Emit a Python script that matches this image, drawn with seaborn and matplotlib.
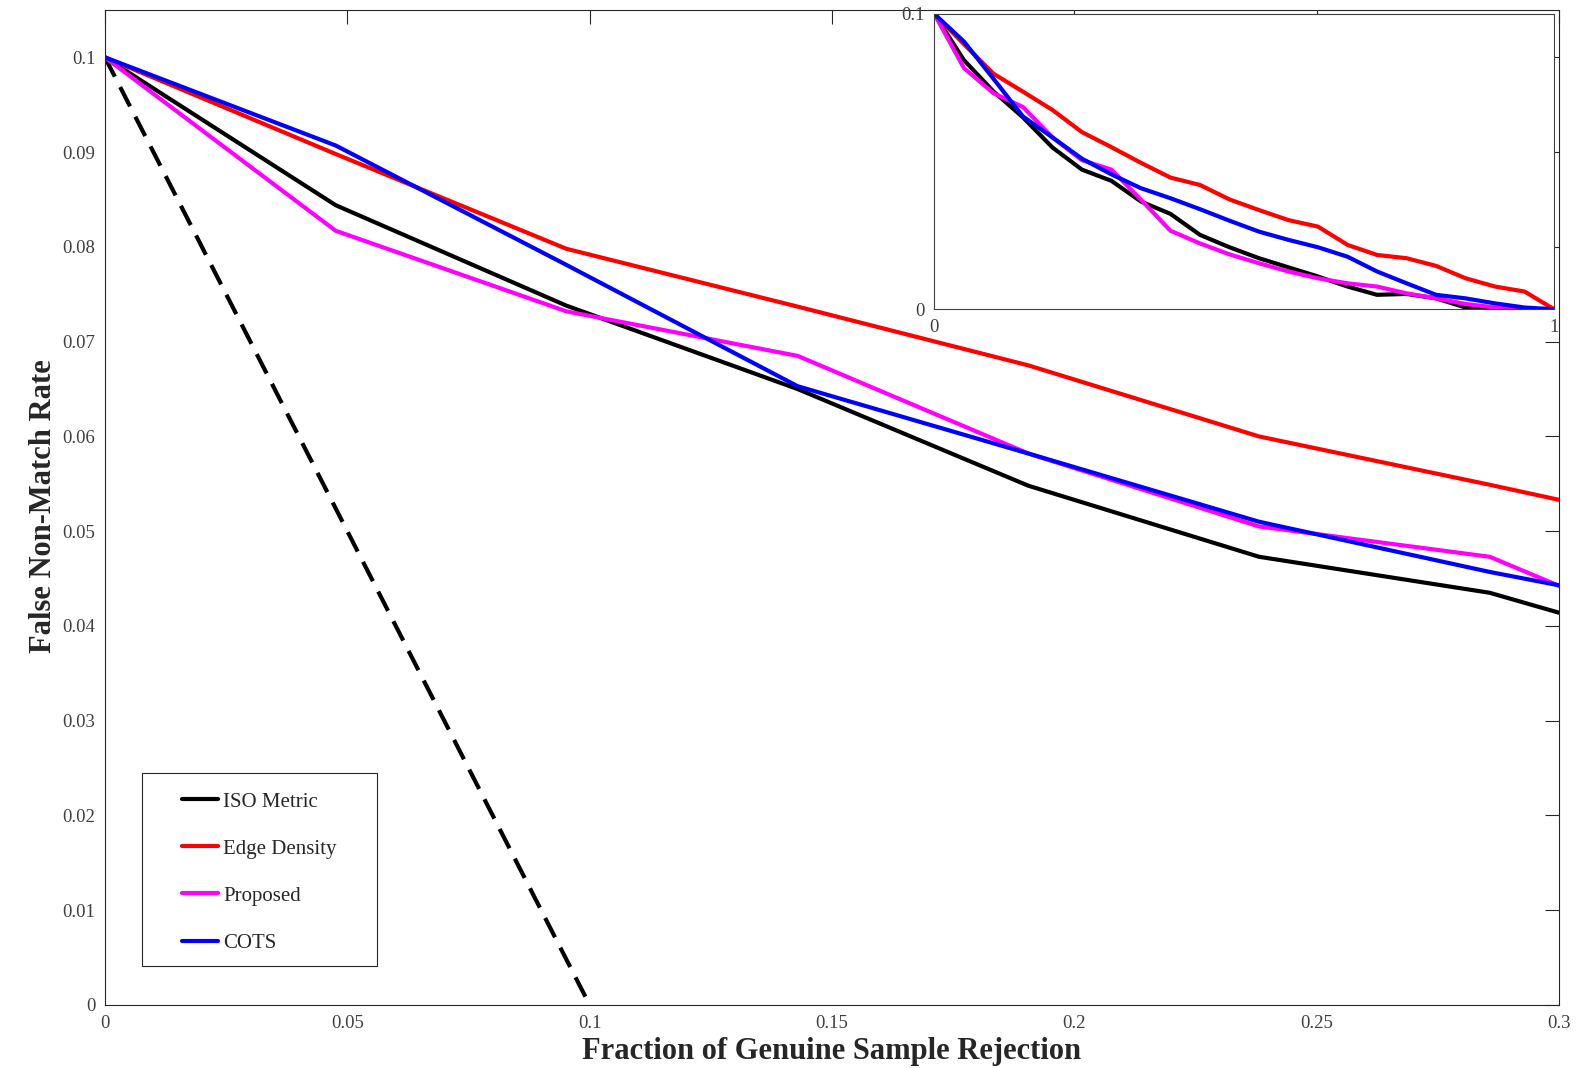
import matplotlib
matplotlib.use("Agg")
import matplotlib.pyplot as plt
from matplotlib.patches import Rectangle
import seaborn as sns

# Fraction of genuine samples rejected (21 equal quality bins)
rejection = [0.0, 0.0476, 0.0952, 0.1429, 0.1905, 0.2381, 0.2857, 0.3333,
             0.3810, 0.4286, 0.4762, 0.5238, 0.5714, 0.6190, 0.6667, 0.7143,
             0.7619, 0.8095, 0.8571, 0.9048, 0.9524, 1.0]

# False non-match rate after rejection, per quality measure
iso_metric = [0.1, 0.0844, 0.0738, 0.0650, 0.0548, 0.0473, 0.0435, 0.0365,
              0.0323, 0.0252, 0.0210, 0.0173, 0.0142, 0.0111, 0.0077, 0.0049,
              0.0052, 0.0037, 0.0006, 0.0002, 0.0001, 0.0]
edge_density = [0.1, 0.0898, 0.0798, 0.0737, 0.0675, 0.0600, 0.0549, 0.0496,
                0.0446, 0.0421, 0.0372, 0.0336, 0.0302, 0.0280, 0.0218, 0.0184,
                0.0173, 0.0147, 0.0105, 0.0077, 0.0060, 0.0]
proposed = [0.1, 0.0817, 0.0732, 0.0685, 0.0582, 0.0505, 0.0473, 0.0371,
            0.0266, 0.0223, 0.0186, 0.0156, 0.0128, 0.0105, 0.0088, 0.0077,
            0.0054, 0.0037, 0.0018, 0.0006, 0.0001, 0.0]
cots = [0.1, 0.0907, 0.0781, 0.0653, 0.0582, 0.0510, 0.0457, 0.0410,
        0.0376, 0.0339, 0.0300, 0.0263, 0.0235, 0.0210, 0.0178, 0.0128,
        0.0088, 0.0049, 0.0037, 0.0020, 0.0006, 0.0]

# Ideal rejection line
ideal_x = [0.0, 0.1]
ideal_y = [0.1, 0.0]

series_names = ["ISO Metric", "Edge Density", "Proposed", "COTS"]
series_values = [iso_metric, edge_density, proposed, cots]
series_colors = ["#000000", "#ff0000", "#ff00ff", "#0000ff"]

xticks = [0, 0.05, 0.1, 0.15, 0.2, 0.25, 0.3]
xtick_labels = ["0", "0.05", "0.1", "0.15", "0.2", "0.25", "0.3"]
yticks = [0, 0.01, 0.02, 0.03, 0.04, 0.05, 0.06, 0.07, 0.08, 0.09, 0.1]
ytick_labels = ["0", "0.01", "0.02", "0.03", "0.04", "0.05", "0.06", "0.07",
                "0.08", "0.09", "0.1"]

sns.set_style("white")
plt.rcParams["font.family"] = ["Liberation Serif", "DejaVu Serif"]
plt.rcParams["axes.edgecolor"] = "#262626"
plt.rcParams["axes.linewidth"] = 0.8

LW = 3.0
fig = plt.figure(figsize=(15.81, 10.68), dpi=100)
ax = fig.add_axes([0.06641, 0.05899, 0.91967, 0.93165])

sns.lineplot(x=ideal_x, y=ideal_y, color="black", lw=LW,
             linestyle=(0, (5.2, 2.8)), ax=ax, legend=False)
for name, vals, col in zip(series_names, series_values, series_colors):
    sns.lineplot(x=rejection, y=vals, color=col, lw=LW, ax=ax, label=name)

ax.set_xlim(0, 0.3)
ax.set_ylim(0, 0.105)
ax.set_xticks(xticks)
ax.set_xticklabels(xtick_labels)
ax.set_yticks(yticks)
ax.set_yticklabels(ytick_labels)
ax.tick_params(direction="in", length=10, width=0.8, top=True, right=True,
               labelsize=13.5, color="#262626", labelcolor="#404040", pad=7)

ax.set_xlabel("Fraction of Genuine Sample Rejection", fontsize=22,
              fontweight="bold", color="#262626")
ax.set_ylabel("False Non-Match Rate", fontsize=22, fontweight="bold",
              color="#262626")
ax.xaxis.set_label_coords(0.5, -0.0472)
ax.xaxis.label.set_va("center")
ax.yaxis.set_label_coords(-0.0424, 0.5010)
ax.yaxis.label.set_va("center")

# Legend with a plain rectangular frame
frame = Rectangle((0.0254, 0.0392), 0.162, 0.194, transform=ax.transAxes,
                  facecolor="white", edgecolor="#262626", lw=0.8, zorder=5)
ax.add_patch(frame)
handles, labels = ax.get_legend_handles_labels()
leg = ax.legend(handles, labels, loc="upper left",
                bbox_to_anchor=(0.0533, 0.2141), frameon=False,
                fontsize=15, handlelength=1.7, handletextpad=0.25,
                labelspacing=1.32, borderpad=0.0, borderaxespad=0.0)
leg.set_zorder(6)
for h in leg.get_lines():
    h.set_linewidth(3)
for t in leg.get_texts():
    t.set_color("#262626")

# Inset: full rejection range
axin = fig.add_axes([0.5910, 0.7104, 0.3920, 0.2765])
for name, vals, col in zip(series_names, series_values, series_colors):
    sns.lineplot(x=rejection, y=vals, color=col, lw=LW, ax=axin, legend=False)
axin.set_xlim(0, 1)
axin.set_ylim(0, 0.1)
axin.set_xticks([0, 1])
axin.set_xticklabels(["0", "1"])
axin.set_yticks([0, 0.1])
axin.set_yticklabels(["0", "0.1"])
axin.set_xlabel("")
axin.set_ylabel("")
axin.tick_params(direction="in", length=0, labelsize=13.5,
                 labelcolor="#404040", pad=7)
for sp in axin.spines.values():
    sp.set_color("#404040")
    sp.set_linewidth(0.8)

fig.savefig("out.png", dpi=100)
